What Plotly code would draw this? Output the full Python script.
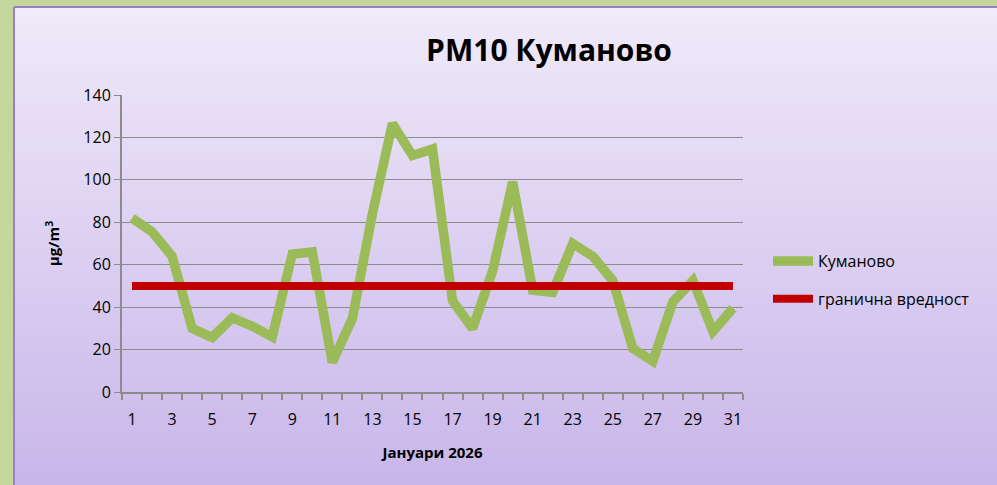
import plotly.graph_objects as go

days = list(range(1, 32))
kumanovo = [82, 75.5, 64, 30, 25.7, 35, 31, 26, 65, 66, 14, 34.6, 84, 126.5, 111.5,
            114.5, 43, 30, 57, 99, 48, 47, 70, 64, 52.5, 20.5, 14.5, 42.5, 52.5, 28.5, 39.5]
limit = [50] * 31
xticks = list(range(1, 32, 2))
yticks = list(range(0, 141, 20))

FONT = "Comic Sans MS, Open Sans, sans-serif"

L, R, T, B = 122, 254, 95, 93
W, H = 997, 485
pw, ph = W - L - R, H - T - B

def px(x):
    return (x - L) / pw

def py(y):
    return (H - B - y) / ph

fig = go.Figure()
fig.add_trace(go.Scatter(x=days, y=kumanovo, mode="lines", name="Куманово",
                         legendgroup="a",
                         line=dict(color="#9bbb59", width=9.5)))
fig.add_trace(go.Scatter(x=days, y=limit, mode="lines", name="гранична вредност",
                         legendgroup="b",
                         line=dict(color="#c00000", width=8)))

# background panel gradient
shapes = []
top_c = (240, 234, 249)
bot_c = (200, 182, 234)
y0p, y1p = 7, 485
n = 60
for i in range(n):
    a = y0p + (y1p - y0p) * i / n
    b = y0p + (y1p - y0p) * (i + 1) / n
    t = (i + 0.5) / n
    c = tuple(int(round(top_c[k] + (bot_c[k] - top_c[k]) * t)) for k in range(3))
    shapes.append(dict(type="rect", xref="paper", yref="paper", layer="below",
                       x0=px(14), x1=px(1000), y0=py(b + 0.5), y1=py(a),
                       fillcolor="rgb(%d,%d,%d)" % c, line=dict(width=0)))
# purple border (left and top)
shapes.append(dict(type="line", xref="paper", yref="paper", layer="below",
                   x0=px(14), x1=px(14), y0=py(7), y1=py(490),
                   line=dict(color="#9a7fc4", width=2)))
shapes.append(dict(type="line", xref="paper", yref="paper", layer="below",
                   x0=px(14), x1=px(1000), y0=py(7), y1=py(7),
                   line=dict(color="#9a7fc4", width=2)))

fig.update_layout(
    width=W, height=H,
    margin=dict(l=L, r=R, t=T, b=B),
    paper_bgcolor="#c3d69b",
    plot_bgcolor="rgba(0,0,0,0)",
    shapes=shapes,
    font=dict(family=FONT, size=16, color="#000000"),
    title=dict(text="<b>PM10 Куманово</b>", font=dict(family=FONT, size=30, color="#000000"),
               x=549 / W, xref="container", xanchor="center",
               y=1 - 50 / H, yref="container", yanchor="middle"),
    showlegend=True,
    legend=dict(x=px(768), xref="paper", y=py(280), yanchor="middle", xanchor="left",
                bgcolor="rgba(0,0,0,0)", font=dict(family=FONT, size=16),
                tracegroupgap=14, itemwidth=40),
    xaxis=dict(range=[0.5, 31.5], tickmode="array", tickvals=xticks,
               ticktext=[str(v) for v in xticks], ticks="", showgrid=False,
               showline=True, linecolor="#8c8c8c", linewidth=2, zeroline=False,
               tickfont=dict(size=16), ticklabelstandoff=12,
               minor=dict(tick0=0.5, dtick=1, ticks="outside", ticklen=6,
                          tickcolor="#8c8c8c", tickwidth=1.5, showgrid=False),
               title=dict(text="<b>Јануари 2026</b>", font=dict(size=15), standoff=18)),
    yaxis=dict(range=[0, 140], tickmode="array", tickvals=yticks, ticks="outside",
               ticklen=6, tickcolor="#8c8c8c", showgrid=True, gridcolor="#8c8c8c",
               gridwidth=1.3, showline=True, linecolor="#8c8c8c", linewidth=2,
               zeroline=False, tickfont=dict(size=16),
               title=dict(text="<b>µg/m<sup>3</sup></b>", font=dict(size=15), standoff=20)),
)

fig.write_html("out.html", config={"displayModeBar": False},
               post_script="document.body.style.margin='0';")
